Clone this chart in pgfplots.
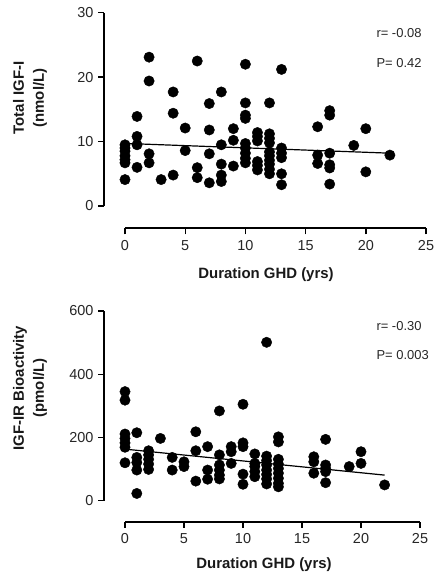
\documentclass[border=0pt]{standalone}
\usepackage{pgfplots}
\pgfplotsset{compat=1.18}
\usepackage{fontspec}
\setmainfont{Liberation Sans}

\pgfplotsset{myax/.style={
  scale only axis, anchor=north west,
  axis x line*=bottom, axis y line*=left,
  axis line style={draw=none},
  tick align=outside,
  major tick length=6bp,
  tick style={draw=black, line width=1.4bp},
  xtick={0,5,...,25},
  xmax=25,
  clip=false,
  /pgf/number format/assume math mode=true,
  ticklabel style={font=\fontsize{14.5}{16}\selectfont, text=black!85},
  xticklabel style={yshift=-2.5bp},
  yticklabel style={xshift=-1bp},
}}

\begin{document}
\begin{tikzpicture}[x=1bp,y=1bp]
\useasboundingbox (0,0) rectangle (439,-576);

% ---------- Top panel ----------
\begin{axis}[myax, at={(104bp,-12.7bp)}, width=322bp, height=215.6bp,
  xmin=-1.744, ymin=-3.46, ymax=30, ytick={0,10,20,30}]
\addplot[only marks, mark=*, mark size=5.2bp, black] coordinates {
(0,9.5) (0,9.0) (0,8.5) (0,7.8) (0,7.2) (0,6.7) (0,4.1)
(1,13.9) (1,10.8) (1,9.5) (1,6.0)
(2,23.1) (2,19.4) (2,8.1) (2,6.7)
(3,4.1)
(4,17.7) (4,14.4) (4,4.8)
(5,12.1) (5,8.6)
(6,22.5) (6,5.95) (6,4.4)
(7,15.9) (7,11.8) (7,8.1) (7,3.6)
(8,17.7) (8,9.5) (8,6.5) (8,4.8) (8,3.8)
(9,12.0) (9,10.2) (9,6.2)
(10,22.0) (10,16.0) (10,14.1) (10,13.6) (10,9.7) (10,9.0) (10,8.2) (10,7.4) (10,6.7)
(11,11.4) (11,10.8) (11,10.1) (11,6.9) (11,6.3) (11,5.6)
(12,16.0) (12,11.2) (12,10.5) (12,9.8) (12,8.4) (12,7.8) (12,7.1) (12,6.5) (12,5.7) (12,5.0)
(13,21.2) (13,9.0) (13,8.2) (13,7.5) (13,5.0) (13,3.3)
(16,12.3) (16,7.9) (16,6.6)
(17,14.8) (17,14.1) (17,8.2) (17,6.4) (17,5.9) (17,3.4)
(19,9.4)
(20,12.0) (20,5.3)
(22,7.9)
};
\addplot[black, line width=1.2bp, no marks] coordinates {(0.2,9.7) (22,8.2)};
\draw[black, line width=1.8bp] (axis cs:0,-3.46) -- (axis cs:25,-3.46);
\draw[black, line width=1.8bp] (axis cs:-1.744,0) -- (axis cs:-1.744,30);
\end{axis}

% ---------- Bottom panel ----------
\begin{axis}[myax, at={(104bp,-311bp)}, width=316bp, height=210.7bp,
  xmin=-1.78, ymin=-66.4, ymax=600, ytick={0,200,400,600}]
\addplot[only marks, mark=*, mark size=5.2bp, black] coordinates {
(0,345) (0,318) (0,211) (0,197) (0,183) (0,169) (0,120)
(1,215) (1,137) (1,121) (1,97) (1,23)
(2,158) (2,145) (2,131) (2,116) (2,99)
(3,197)
(4,137) (4,97)
(5,123) (5,108)
(6,218) (6,158) (6,62)
(7,171) (7,97) (7,68)
(8,284) (8,145) (8,113) (8,97) (8,81) (8,69)
(9,171) (9,155) (9,118)
(10,305) (10,183) (10,171) (10,84) (10,52)
(11,148) (11,118) (11,108) (11,92) (11,76)
(12,501) (12,141) (12,127) (12,113) (12,97) (12,83) (12,69) (12,53)
(13,202) (13,186) (13,131) (13,116) (13,102) (13,87) (13,71) (13,55) (13,44)
(16,139) (16,123) (16,87)
(17,194) (17,113) (17,102) (17,92) (17,57)
(19,108)
(20,155) (20,118)
(22,50)
};
\addplot[black, line width=1.2bp, no marks] coordinates {(0.3,162) (22,81)};
\draw[black, line width=1.8bp] (axis cs:0,-66.4) -- (axis cs:25,-66.4);
\draw[black, line width=1.8bp] (axis cs:-1.78,0) -- (axis cs:-1.78,600);
\end{axis}

% ---------- Texts ----------
\node[anchor=west, text=black!85, font=\fontsize{13}{15}\selectfont] at (373,-33) {r= -0.08};
\node[anchor=west, text=black!85, font=\fontsize{13}{15}\selectfont] at (373,-63) {P= 0.42};
\node[anchor=west, text=black!85, font=\fontsize{13}{15}\selectfont] at (373,-326) {r= -0.30};
\node[anchor=west, text=black!85, font=\fontsize{13}{15}\selectfont] at (373,-355) {P= 0.003};

\node[rotate=90, align=center, text=black!90, font=\bfseries\fontsize{15}{20}\selectfont] at (30,-98) {Total IGF-I\\(nmol/L)};
\node[rotate=90, align=center, text=black!90, font=\bfseries\fontsize{15}{20}\selectfont] at (30,-388) {IGF-IR Bioactivity\\(pmol/L)};

\node[text=black!90, font=\bfseries\fontsize{15}{18}\selectfont] at (266,-275) {Duration GHD (yrs)};
\node[text=black!90, font=\bfseries\fontsize{15}{18}\selectfont] at (264,-565) {Duration GHD (yrs)};
\end{tikzpicture}
\end{document}
